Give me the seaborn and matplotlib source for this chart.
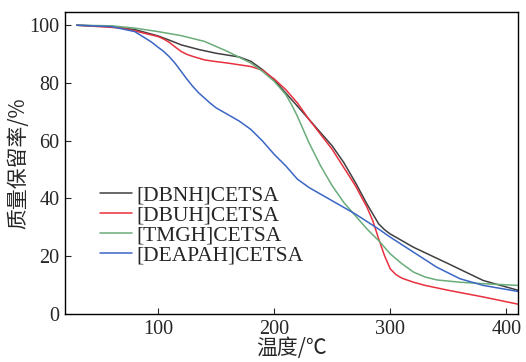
import numpy as np
import pandas as pd
import matplotlib
matplotlib.use("Agg")
import matplotlib.pyplot as plt
import seaborn as sns

series_names = ["[DBNH]CETSA", "[DBUH]CETSA", "[TMGH]CETSA", "[DEAPAH]CETSA"]
colors = ["#404040", "#e8303f", "#6aac7a", "#3a66c4"]

dbnh_t = [30, 60, 80, 100, 110, 120, 135, 150, 170, 180, 190, 200, 210, 220, 230, 240, 250, 260, 270, 280, 285, 290, 295, 300, 320, 350, 380, 410]
dbnh_w = [100, 99.6, 98.5, 96.3, 94.8, 93.2, 91.6, 90.3, 89.0, 87.5, 84.6, 81.1, 76.5, 72.0, 67.4, 62.8, 58.2, 52.4, 45.5, 38.0, 34.6, 31.2, 29.2, 27.7, 23.1, 17.4, 11.6, 8.2]

dbuh_t = [30, 70, 100, 105, 110, 115, 120, 125, 130, 140, 150, 160, 180, 190, 200, 210, 220, 230, 240, 250, 260, 270, 280, 285, 290, 295, 300, 305, 310, 320, 330, 350, 380, 410]
dbuh_w = [100, 99.0, 96.1, 95.2, 94.0, 92.4, 90.9, 89.9, 89.2, 88.0, 87.4, 86.9, 85.7, 84.4, 81.4, 77.7, 73.1, 67.4, 62.2, 57.0, 50.7, 44.4, 36.9, 32.2, 26.0, 20.2, 15.6, 13.6, 12.4, 11.0, 9.9, 8.2, 5.9, 3.4]

tmgh_t = [30, 60, 80, 100, 120, 140, 160, 180, 190, 200, 210, 215, 220, 230, 240, 250, 260, 270, 280, 290, 300, 310, 320, 330, 340, 360, 380, 410]
tmgh_w = [100, 99.8, 99.0, 97.8, 96.4, 94.4, 90.9, 86.9, 84.0, 80.6, 76.0, 72.5, 68.5, 59.3, 51.3, 44.4, 38.6, 34.0, 29.4, 25.4, 20.8, 17.4, 14.5, 12.8, 11.8, 11.0, 10.5, 9.9]

deapah_t = [30, 60, 80, 90, 95, 100, 105, 110, 115, 120, 125, 130, 135, 140, 145, 150, 160, 170, 180, 190, 200, 210, 220, 230, 240, 250, 260, 270, 280, 290, 300, 320, 340, 360, 380, 410]
deapah_w = [100, 99.5, 97.8, 95.3, 94.0, 92.4, 90.9, 89.0, 86.7, 84.0, 81.3, 78.8, 76.6, 74.8, 73.0, 71.4, 69.1, 66.8, 63.9, 59.9, 55.3, 51.3, 46.7, 43.8, 41.5, 39.2, 36.9, 34.6, 32.0, 29.4, 26.6, 21.4, 16.2, 12.2, 9.9, 7.8]

x_ticks = [100, 200, 300, 400]
y_ticks = [0, 20, 40, 60, 80, 100]

frames = []
for name, t, w in [(series_names[0], dbnh_t, dbnh_w), (series_names[1], dbuh_t, dbuh_w),
                   (series_names[2], tmgh_t, tmgh_w), (series_names[3], deapah_t, deapah_w)]:
    frames.append(pd.DataFrame({"T": t, "W": w, "s": name}))
df = pd.concat(frames, ignore_index=True)

sns.set_style("ticks")
plt.rcParams["font.family"] = ["Liberation Serif", "Noto Sans CJK SC"]

fig = plt.figure(figsize=(5.26, 3.62), dpi=100)
ax = fig.add_axes([0.1236, 0.1326, 0.8614, 0.8344])
sns.lineplot(data=df, x="T", y="W", hue="s", hue_order=series_names,
             palette=dict(zip(series_names, colors)), linewidth=1.1, ax=ax, sort=False)

ax.set_xlim(20, 410)
ax.set_ylim(0, 104.6)
ax.set_xticks(x_ticks)
ax.set_yticks(y_ticks)
ax.tick_params(direction="in", length=4, width=0.8, labelsize=14.5, pad=4)
for s in ax.spines.values():
    s.set_linewidth(1.0)
    s.set_color("black")
ax.set_xlabel("温度/℃", fontsize=15, family=["Noto Sans CJK SC", "DejaVu Sans"], labelpad=-1)
ax.set_ylabel("质量保留率/%", fontsize=15, family=["Noto Sans CJK SC", "DejaVu Sans"], labelpad=0)

leg = ax.legend(loc="upper left", bbox_to_anchor=(0.058, 0.455), frameon=False,
                fontsize=15.5, handlelength=1.5, handletextpad=0.2, labelspacing=0.0,
                borderaxespad=0)
for line in leg.get_lines():
    line.set_linewidth(1.1)

fig.savefig("out.png", dpi=100)
